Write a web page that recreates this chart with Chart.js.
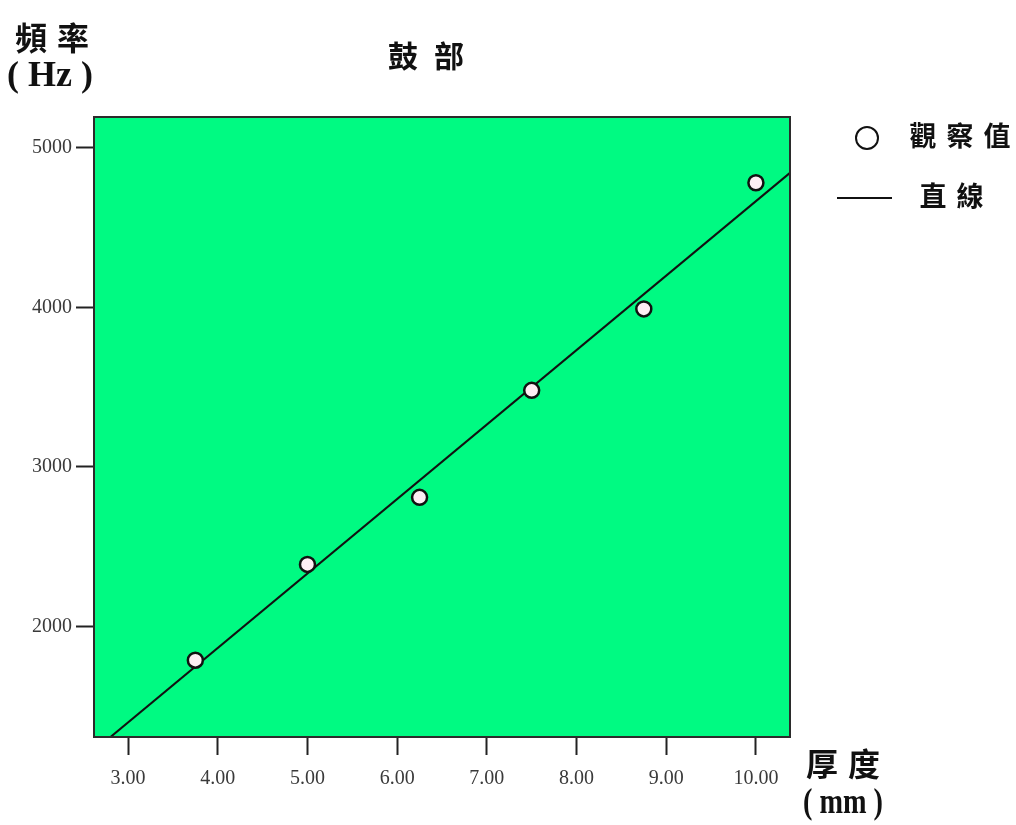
<!DOCTYPE html>
<html>
<head>
<meta charset="utf-8">
<title>鼓部</title>
<script src="https://cdn.jsdelivr.net/npm/chart.js@4.4.1/dist/chart.umd.min.js"></script>
<style>
  html, body { margin: 0; padding: 0; background: #ffffff; }
  canvas { display: block; }
</style>
</head>
<body>
<canvas id="chart" width="1016" height="825"></canvas>
<script>
// Observed drum frequency against thickness
const thicknessMm = [3.75, 5.00, 6.25, 7.50, 8.75, 10.00];
const frequencyHz = [1790, 2390, 2810, 3480, 3990, 4780];

// Fitted straight line (end points where it meets the plot frame)
const fitThickness = [2.80, 10.38];
const fitFrequency = [1307, 4842];

// Axis ticks and ranges
const xTicks = [3, 4, 5, 6, 7, 8, 9, 10];
const yTicks = [2000, 3000, 4000, 5000];
const xRange = [2.62, 10.38];
const yRange = [1309, 5192];

const observed = thicknessMm.map((x, i) => ({ x: x, y: frequencyHz[i] }));
const fitted = fitThickness.map((x, i) => ({ x: x, y: fitFrequency[i] }));

const CJK = '"Noto Sans CJK TC", "Noto Sans CJK SC", sans-serif';
const SERIF = '"Liberation Serif", "DejaVu Serif", serif';

function drawChars(ctx, chars, centers, y, font) {
  ctx.font = font;
  ctx.textAlign = 'center';
  ctx.textBaseline = 'middle';
  for (let i = 0; i < chars.length; i++) ctx.fillText(chars[i], centers[i], y);
}

const frameAndLabels = {
  id: 'frameAndLabels',
  beforeDatasetsDraw(chart) {
    const { ctx, chartArea: a } = chart;
    ctx.save();
    ctx.fillStyle = '#00fa82';
    ctx.fillRect(a.left, a.top, a.right - a.left, a.bottom - a.top);
    ctx.restore();
  },
  afterDatasetsDraw(chart) {
    const { ctx, chartArea: a } = chart;
    ctx.save();
    ctx.strokeStyle = '#2b2b2b';
    ctx.lineWidth = 2;
    ctx.strokeRect(a.left, a.top, a.right - a.left, a.bottom - a.top);
    ctx.restore();
  },
  afterDraw(chart) {
    const ctx = chart.ctx;
    ctx.save();
    ctx.fillStyle = '#111111';
    // title
    drawChars(ctx, ['鼓', '部'], [403, 449], 56, 'bold 30px ' + CJK);
    // y axis title
    drawChars(ctx, ['頻', '率'], [31, 73], 38, 'bold 32px ' + CJK);
    ctx.font = 'bold 36px ' + SERIF;
    ctx.fillText('( Hz )', 50, 77, 90);
    // x axis title
    drawChars(ctx, ['厚', '度'], [822, 864], 764, 'bold 32px ' + CJK);
    ctx.font = 'bold 36px ' + SERIF;
    ctx.fillText('( mm )', 843, 804, 80);

    // legend: observed values
    ctx.beginPath();
    ctx.arc(867, 138, 11, 0, Math.PI * 2);
    ctx.fillStyle = '#ffffff';
    ctx.fill();
    ctx.lineWidth = 2;
    ctx.strokeStyle = '#111111';
    ctx.stroke();
    ctx.fillStyle = '#111111';
    drawChars(ctx, ['觀', '察', '值'], [923, 960, 997], 136, 'bold 27px ' + CJK);
    // legend: straight line
    ctx.beginPath();
    ctx.moveTo(837, 198);
    ctx.lineTo(892, 198);
    ctx.lineWidth = 2;
    ctx.stroke();
    drawChars(ctx, ['直', '線'], [933, 970], 196, 'bold 27px ' + CJK);
    ctx.restore();
  }
};

new Chart(document.getElementById('chart'), {
  type: 'scatter',
  data: {
    datasets: [
      {
        label: '直線',
        data: fitted,
        showLine: true,
        borderColor: '#111111',
        borderWidth: 2,
        pointRadius: 0,
        pointHoverRadius: 0,
        fill: false,
        order: 2
      },
      {
        label: '觀察值',
        data: observed,
        showLine: false,
        pointRadius: 7.5,
        pointHoverRadius: 7.5,
        pointBorderWidth: 2.5,
        pointBorderColor: '#111111',
        pointBackgroundColor: '#fdeef4',
        order: 1
      }
    ]
  },
  plugins: [frameAndLabels],
  options: {
    responsive: false,
    animation: false,
    devicePixelRatio: 1,
    layout: { padding: { left: 0, top: 117, right: 226, bottom: 0 } },
    plugins: {
      legend: { display: false },
      title: { display: false },
      tooltip: { enabled: false }
    },
    scales: {
      x: {
        type: 'linear',
        min: xRange[0],
        max: xRange[1],
        afterBuildTicks(scale) { scale.ticks = xTicks.map(v => ({ value: v })); },
        afterFit(scale) { scale.height = 88; },
        border: { display: false },
        grid: {
          drawOnChartArea: false,
          drawTicks: true,
          tickLength: 18,
          tickWidth: 2,
          tickColor: '#222222'
        },
        ticks: {
          color: '#3a3a3a',
          padding: 12,
          autoSkip: false,
          maxRotation: 0,
          font: { family: SERIF, size: 20 },
          callback: v => Number(v).toFixed(2)
        }
      },
      y: {
        type: 'linear',
        min: yRange[0],
        max: yRange[1],
        afterBuildTicks(scale) { scale.ticks = yTicks.map(v => ({ value: v })); },
        afterFit(scale) { scale.width = 94; },
        border: { display: false },
        grid: {
          drawOnChartArea: false,
          drawTicks: true,
          tickLength: 18,
          tickWidth: 2,
          tickColor: '#222222'
        },
        ticks: {
          color: '#3a3a3a',
          padding: 4,
          autoSkip: false,
          font: { family: SERIF, size: 20 },
          callback: v => String(v)
        }
      }
    }
  }
});
</script>
</body>
</html>
